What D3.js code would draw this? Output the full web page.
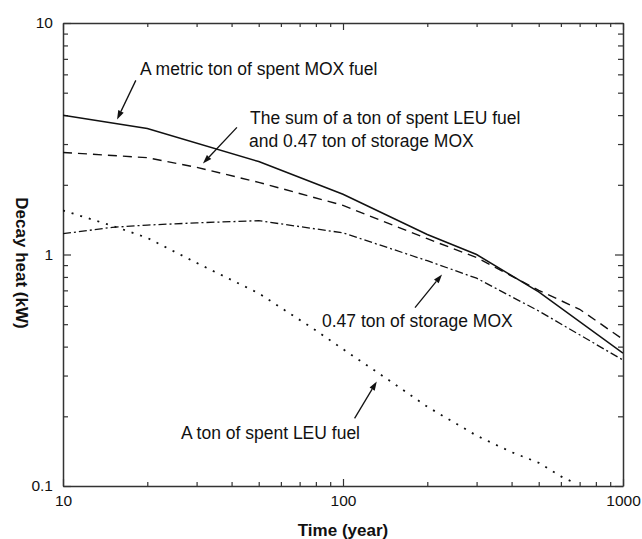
<!DOCTYPE html>
<html>
<head>
<meta charset="utf-8">
<script src="https://cdn.jsdelivr.net/npm/d3@7"></script>
<style>
  html, body { margin: 0; padding: 0; background: #fff; }
  svg { display: block; }
  text { font-family: "Liberation Sans", Arial, Helvetica, sans-serif; fill: #111; }
</style>
</head>
<body>
<svg id="chart" width="642" height="539"></svg>
<script>
// ---- data ----
const xTickValues = [10, 100, 1000];
const xTickLabels = ["10", "100", "1000"];
const yTickValues = [0.1, 1, 10];
const yTickLabels = ["0.1", "1", "10"];

const xTitle = "Time (year)";
const yTitle = "Decay heat (kW)";

// A metric ton of spent MOX fuel (solid)
const moxYears  = [10, 20, 50, 100, 200, 300, 500, 1000];
const moxHeat   = [4.0, 3.5, 2.52, 1.82, 1.22, 1.0, 0.69, 0.375];

// Sum of a ton of spent LEU fuel and 0.47 ton of storage MOX (dashed)
const sumYears  = [10, 20, 30, 50, 100, 200, 300, 500, 700, 1000];
const sumHeat   = [2.76, 2.62, 2.38, 2.05, 1.63, 1.17, 0.97, 0.70, 0.58, 0.43];

// 0.47 ton of storage MOX (dash-dot)
const stoYears  = [10, 15, 20, 30, 50, 70, 100, 200, 300, 500, 1000];
const stoHeat   = [1.23, 1.31, 1.34, 1.37, 1.40, 1.32, 1.24, 0.94, 0.79, 0.57, 0.35];

// A ton of spent LEU fuel (dotted)
const leuYears  = [10, 15, 20, 30, 50, 80, 100, 150, 200, 300, 400, 500, 600, 650];
const leuHeat   = [1.55, 1.33, 1.18, 0.92, 0.68, 0.47, 0.39, 0.28, 0.22, 0.165, 0.14, 0.126, 0.11, 0.105];

const labelMox = "A metric ton of spent MOX fuel";
const labelSum = ["The sum of a ton of spent LEU fuel", "and 0.47 ton of storage MOX"];
const labelSto = "0.47 ton of storage MOX";
const labelLeu = "A ton of spent LEU fuel";

// ---- layout ----
const svg = d3.select("#chart");
const L = 63, R = 623, T = 23, B = 486;

const x = d3.scaleLog().domain([10, 1000]).range([L, R]);
const y = d3.scaleLog().domain([0.1, 10]).range([B, T]);

// minor tick values
const minorX = [], minorY = [];
[10, 100].forEach(d => { for (let k = 2; k <= 9; k++) minorX.push(d * k); });
[0.1, 1].forEach(d => { for (let k = 2; k <= 9; k++) minorY.push(+(d * k).toFixed(3)); });

const axisColor = "#333";
function styleAxis(g) {
  g.selectAll("path.domain").attr("stroke", axisColor).attr("stroke-width", 1.5);
  g.selectAll(".tick line").attr("stroke", axisColor).attr("stroke-width", 1.2);
  g.selectAll(".tick text").style("font-size", "15.5px").attr("fill", "#111");
}

// bottom
const gB = svg.append("g").attr("transform", `translate(0,${B})`)
  .call(d3.axisBottom(x).tickValues(xTickValues)
    .tickFormat((d, i) => xTickLabels[i]).tickSize(-7).tickSizeOuter(0).tickPadding(9));
styleAxis(gB);
svg.append("g").attr("transform", `translate(0,${B})`)
  .call(d3.axisBottom(x).tickValues(minorX).tickFormat("").tickSize(-4).tickSizeOuter(0))
  .call(g => { styleAxis(g); g.select("path.domain").remove(); });

// top
const gT = svg.append("g").attr("transform", `translate(0,${T})`)
  .call(d3.axisTop(x).tickValues(xTickValues).tickFormat("").tickSize(-7).tickSizeOuter(0));
styleAxis(gT);
svg.append("g").attr("transform", `translate(0,${T})`)
  .call(d3.axisTop(x).tickValues(minorX).tickFormat("").tickSize(-4).tickSizeOuter(0))
  .call(g => { styleAxis(g); g.select("path.domain").remove(); });

// left
const gL = svg.append("g").attr("transform", `translate(${L},0)`)
  .call(d3.axisLeft(y).tickValues(yTickValues)
    .tickFormat((d, i) => yTickLabels[i]).tickSize(-8).tickSizeOuter(0).tickPadding(10));
styleAxis(gL);
svg.append("g").attr("transform", `translate(${L},0)`)
  .call(d3.axisLeft(y).tickValues(minorY).tickFormat("").tickSize(-5).tickSizeOuter(0))
  .call(g => { styleAxis(g); g.select("path.domain").remove(); });

// right
const gR = svg.append("g").attr("transform", `translate(${R},0)`)
  .call(d3.axisRight(y).tickValues(yTickValues).tickFormat("").tickSize(-8).tickSizeOuter(0));
styleAxis(gR);
svg.append("g").attr("transform", `translate(${R},0)`)
  .call(d3.axisRight(y).tickValues(minorY).tickFormat("").tickSize(-5).tickSizeOuter(0))
  .call(g => { styleAxis(g); g.select("path.domain").remove(); });

// axis titles
svg.append("text").attr("x", (L + R) / 2).attr("y", 536)
  .attr("text-anchor", "middle").style("font-size", "17px").style("font-weight", "bold")
  .text(xTitle);
svg.append("text").attr("transform", `translate(16,263) rotate(90)`)
  .attr("text-anchor", "middle").style("font-size", "17px").style("font-weight", "bold")
  .text(yTitle);

// ---- series ----
svg.append("clipPath").attr("id", "clip").append("rect")
  .attr("x", L).attr("y", T).attr("width", R - L).attr("height", B - T);

const line = d3.line().x(d => x(d[0])).y(d => y(d[1]));
const plot = svg.append("g").attr("clip-path", "url(#clip)");

function drawSeries(xs, ys, dash, width) {
  plot.append("path")
    .datum(xs.map((t, i) => [t, ys[i]]))
    .attr("d", line)
    .attr("fill", "none")
    .attr("stroke", "#111")
    .attr("stroke-width", width)
    .attr("stroke-dasharray", dash);
}
drawSeries(moxYears, moxHeat, null, 1.5);
drawSeries(sumYears, sumHeat, "9,6", 1.4);
drawSeries(stoYears, stoHeat, "8,3,2,3", 1.3);
drawSeries(leuYears, leuHeat, "2,7", 1.8);

// ---- annotations ----
function arrow(from, to) {
  const x1 = x(from[0]), y1 = y(from[1]), x2 = x(to[0]), y2 = y(to[1]);
  const ang = Math.atan2(y2 - y1, x2 - x1);
  const len = 9, half = 3;
  const bx = x2 - len * Math.cos(ang), by = y2 - len * Math.sin(ang);
  svg.append("line").attr("x1", x1).attr("y1", y1).attr("x2", bx).attr("y2", by)
    .attr("stroke", "#111").attr("stroke-width", 1.3);
  const px = -Math.sin(ang) * half, py = Math.cos(ang) * half;
  svg.append("path")
    .attr("d", `M${x2},${y2}L${bx + px},${by + py}L${bx - px},${by - py}Z`)
    .attr("fill", "#111");
}
function label(txt, px, py) {
  svg.append("text").attr("x", px).attr("y", py).style("font-size", "17.5px").text(txt);
}

label(labelMox, 140, 75);
arrow([18.2, 5.65], [15.6, 3.83]);

label(labelSum[0], 250, 124);
label(labelSum[1], 249, 147);
arrow([41.8, 3.54], [31.6, 2.47]);

label(labelSto, 322, 327);
arrow([180.8, 0.59], [225.8, 0.82]);

label(labelLeu, 181, 439);
arrow([110, 0.196], [132, 0.283]);
</script>
</body>
</html>
